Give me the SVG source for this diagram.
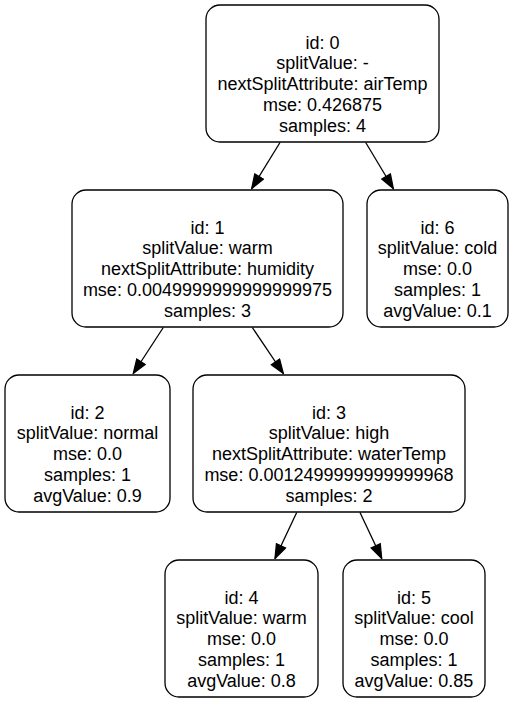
<svg xmlns="http://www.w3.org/2000/svg" width="514" height="703" viewBox="0 0 514 703">
<style>
.box{fill:#fff;stroke:#000;stroke-width:1.3}
text{font-family:"Liberation Sans",Arial,sans-serif;font-size:18px;fill:#000;text-anchor:middle}
.edge{stroke:#000;stroke-width:1.3;fill:none;marker-end:url(#arr)}
</style>
<defs>
<marker id="arr" markerUnits="userSpaceOnUse" markerWidth="16" markerHeight="12" refX="14" refY="5" orient="auto" viewBox="-1 -1 16 12">
<path d="M0,0 L14,5 L0,10 Z" fill="#000" stroke="#000" stroke-width="1.3"/>
</marker>
</defs>
<rect width="514" height="703" fill="#fff"/>
<g id="edges">
<line class="edge" x1="280" y1="142.5" x2="251.7" y2="188.5"/>
<line class="edge" x1="365.7" y1="142.5" x2="393.3" y2="188.5"/>
<line class="edge" x1="163.3" y1="327.5" x2="133.3" y2="373.5"/>
<line class="edge" x1="252.3" y1="327.5" x2="283.3" y2="373.5"/>
<line class="edge" x1="296.7" y1="512.5" x2="275" y2="558.5"/>
<line class="edge" x1="360" y1="512.5" x2="381.7" y2="558.5"/>
</g>
<g id="node0">
<rect class="box" x="206" y="5" width="233" height="137" rx="14"/>
<text x="322.5" y="48.75">id: 0</text>
<text x="322.5" y="69.45">splitValue: -</text>
<text x="322.5" y="90.15">nextSplitAttribute: airTemp</text>
<text x="322.5" y="110.85">mse: 0.426875</text>
<text x="322.5" y="131.55">samples: 4</text>
</g>
<g id="node1">
<rect class="box" x="72" y="190" width="271" height="137" rx="14"/>
<text x="207.5" y="233.75">id: 1</text>
<text x="207.5" y="254.45">splitValue: warm</text>
<text x="207.5" y="275.15">nextSplitAttribute: humidity</text>
<text x="207.5" y="295.85">mse: 0.0049999999999999975</text>
<text x="207.5" y="316.55">samples: 3</text>
</g>
<g id="node6">
<rect class="box" x="367" y="190" width="141" height="137" rx="14"/>
<text x="437.5" y="233.75">id: 6</text>
<text x="437.5" y="254.45">splitValue: cold</text>
<text x="437.5" y="275.15">mse: 0.0</text>
<text x="437.5" y="295.85">samples: 1</text>
<text x="437.5" y="316.55">avgValue: 0.1</text>
</g>
<g id="node2">
<rect class="box" x="5" y="375" width="165" height="137" rx="14"/>
<text x="87.5" y="418.75">id: 2</text>
<text x="87.5" y="439.45">splitValue: normal</text>
<text x="87.5" y="460.15">mse: 0.0</text>
<text x="87.5" y="480.85">samples: 1</text>
<text x="87.5" y="501.55">avgValue: 0.9</text>
</g>
<g id="node3">
<rect class="box" x="193" y="375" width="272" height="137" rx="14"/>
<text x="329" y="418.75">id: 3</text>
<text x="329" y="439.45">splitValue: high</text>
<text x="329" y="460.15">nextSplitAttribute: waterTemp</text>
<text x="329" y="480.85">mse: 0.0012499999999999968</text>
<text x="329" y="501.55">samples: 2</text>
</g>
<g id="node4">
<rect class="box" x="165" y="560" width="153" height="137" rx="14"/>
<text x="241.5" y="603.75">id: 4</text>
<text x="241.5" y="624.45">splitValue: warm</text>
<text x="241.5" y="645.15">mse: 0.0</text>
<text x="241.5" y="665.85">samples: 1</text>
<text x="241.5" y="686.55">avgValue: 0.8</text>
</g>
<g id="node5">
<rect class="box" x="343" y="560" width="142" height="137" rx="14"/>
<text x="414" y="603.75">id: 5</text>
<text x="414" y="624.45">splitValue: cool</text>
<text x="414" y="645.15">mse: 0.0</text>
<text x="414" y="665.85">samples: 1</text>
<text x="414" y="686.55">avgValue: 0.85</text>
</g>
</svg>
